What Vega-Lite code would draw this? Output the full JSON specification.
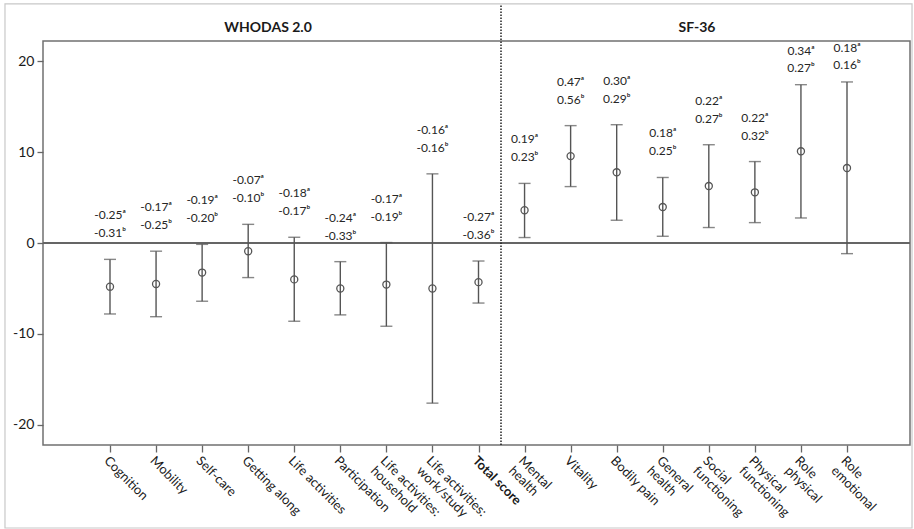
{
  "$schema": "https://vega.github.io/schema/vega-lite/v6.json",
  "width": 867,
  "height": 404,
  "autosize": {"type": "none"},
  "padding": {"left": 43, "top": 41, "right": 4, "bottom": 84},
  "background": "white",
  "config": {
    "font": "Lato",
    "view": {"stroke": "#707070", "strokeWidth": 1.5},
    "axis": {"grid": false, "domain": false, "tickColor": "#666666", "tickWidth": 1.3, "labelColor": "#1a1a1a", "labelFont": "Lato"}
  },
  "datasets": {
    "main": [
      {"measure": "Cognition", "mean": -4.8, "lower": -7.8, "upper": -1.8, "a": "-0.25ᵃ", "b": "-0.31ᵇ"},
      {"measure": "Mobility", "mean": -4.5, "lower": -8.1, "upper": -0.9, "a": "-0.17ᵃ", "b": "-0.25ᵇ"},
      {"measure": "Self-care", "mean": -3.25, "lower": -6.4, "upper": -0.15, "a": "-0.19ᵃ", "b": "-0.20ᵇ"},
      {"measure": "Getting along", "mean": -0.9, "lower": -3.8, "upper": 2.05, "a": "-0.07ᵃ", "b": "-0.10ᵇ"},
      {"measure": "Life activities", "mean": -4.0, "lower": -8.6, "upper": 0.63, "a": "-0.18ᵃ", "b": "-0.17ᵇ"},
      {"measure": "Participation", "mean": -5.0, "lower": -7.9, "upper": -2.05, "a": "-0.24ᵃ", "b": "-0.33ᵇ"},
      {"measure": "Life activities:\nhousehold", "mean": -4.57, "lower": -9.15, "upper": 0.05, "a": "-0.17ᵃ", "b": "-0.19ᵇ"},
      {"measure": "Life activities:\nwork/study", "mean": -5.0, "lower": -17.6, "upper": 7.6, "a": "-0.16ᵃ", "b": "-0.16ᵇ"},
      {"measure": "Total score", "mean": -4.3, "lower": -6.6, "upper": -1.98, "a": "-0.27ᵃ", "b": "-0.36ᵇ"},
      {"measure": "Mental\nhealth", "mean": 3.6, "lower": 0.6, "upper": 6.55, "a": "0.19ᵃ", "b": "0.23ᵇ"},
      {"measure": "Vitality", "mean": 9.55, "lower": 6.2, "upper": 12.9, "a": "0.47ᵃ", "b": "0.56ᵇ"},
      {"measure": "Bodily pain", "mean": 7.77, "lower": 2.5, "upper": 13.0, "a": "0.30ᵃ", "b": "0.29ᵇ"},
      {"measure": "General\nhealth", "mean": 3.95, "lower": 0.74, "upper": 7.2, "a": "0.18ᵃ", "b": "0.25ᵇ"},
      {"measure": "Social\nfunctioning", "mean": 6.26, "lower": 1.7, "upper": 10.8, "a": "0.22ᵃ", "b": "0.27ᵇ"},
      {"measure": "Physical\nfunctioning", "mean": 5.57, "lower": 2.24, "upper": 8.95, "a": "0.22ᵃ", "b": "0.32ᵇ"},
      {"measure": "Role\nphysical", "mean": 10.08, "lower": 2.75, "upper": 17.4, "a": "0.34ᵃ", "b": "0.27ᵇ"},
      {"measure": "Role\nemotional", "mean": 8.24, "lower": -1.17, "upper": 17.7, "a": "0.18ᵃ", "b": "0.16ᵇ"}
    ],
    "headers": [
      {"label": "WHODAS 2.0", "pos": 3.435, "level": 23.63},
      {"label": "SF-36", "pos": 12.76, "level": 23.63}
    ],
    "divider": [
      {"pos": 8.5, "bottom": -22.2, "top": 26.27}
    ],
    "frame": [
      {"left": -2.283, "right": 17.435, "top": 26.27, "bottom": -31.32}
    ]
  },
  "layer": [
    {
      "data": {"name": "main"},
      "encoding": {
        "x": {
          "field": "measure",
          "type": "nominal",
          "sort": null,
          "title": null,
          "scale": {"type": "point", "padding": 0, "range": [67, 804]},
          "axis": {
            "labelAngle": 45,
            "labelAlign": "left",
            "labelBaseline": "top",
            "labelFontSize": 13,
            "labelPadding": 2,
            "tickSize": 7,
            "labelExpr": "split(datum.label, '\\n')",
            "labelLineHeight": 14,
            "labelFontWeight": {"condition": {"test": "datum.value === 'Total score'", "value": "bold"}, "value": "normal"}
          }
        }
      },
      "layer": [
        {
          "mark": {"type": "rule", "color": "#666666", "strokeWidth": 1.5},
          "encoding": {"x": null, "y": {"datum": 0, "type": "quantitative", "scale": {"domain": [-22.2, 22.2], "nice": false, "zero": false}}}
        },
        {
          "mark": {"type": "rule", "color": "#555555", "strokeWidth": 1.4},
          "encoding": {
            "y": {"field": "lower", "type": "quantitative", "scale": {"domain": [-22.2, 22.2], "nice": false, "zero": false},
              "axis": {"values": [-20, -10, 0, 10, 20], "title": null, "labelFontSize": 14, "tickSize": 6, "labelPadding": 3, "labelExpr": "'' + datum.value"}},
            "y2": {"field": "upper"}
          }
        },
        {
          "mark": {"type": "tick", "color": "#555555", "thickness": 1.4, "size": 12, "orient": "horizontal"},
          "encoding": {"y": {"field": "lower", "type": "quantitative"}}
        },
        {
          "mark": {"type": "tick", "color": "#555555", "thickness": 1.4, "size": 12, "orient": "horizontal"},
          "encoding": {"y": {"field": "upper", "type": "quantitative"}}
        },
        {
          "mark": {"type": "point", "shape": "circle", "filled": false, "color": "#555555", "strokeWidth": 1.3, "size": 50, "opacity": 1},
          "encoding": {"y": {"field": "mean", "type": "quantitative"}}
        },
        {
          "transform": [{"filter": "datum.upper < 15"}],
          "mark": {"type": "text", "fontSize": 12, "color": "#262626", "align": "center", "baseline": "middle", "dy": -44},
          "encoding": {"y": {"field": "upper", "type": "quantitative"}, "text": {"field": "a"}}
        },
        {
          "transform": [{"filter": "datum.upper < 15"}],
          "mark": {"type": "text", "fontSize": 12, "color": "#262626", "align": "center", "baseline": "middle", "dy": -26},
          "encoding": {"y": {"field": "upper", "type": "quantitative"}, "text": {"field": "b"}}
        },
        {
          "transform": [{"filter": "datum.upper >= 15"}],
          "mark": {"type": "text", "fontSize": 12, "color": "#262626", "align": "center", "baseline": "middle", "dy": -34},
          "encoding": {"y": {"field": "upper", "type": "quantitative"}, "text": {"field": "a"}}
        },
        {
          "transform": [{"filter": "datum.upper >= 15"}],
          "mark": {"type": "text", "fontSize": 12, "color": "#262626", "align": "center", "baseline": "middle", "dy": -17},
          "encoding": {"y": {"field": "upper", "type": "quantitative"}, "text": {"field": "b"}}
        }
      ]
    },
    {
      "encoding": {
        "x": {"type": "quantitative", "scale": {"domain": [-1.4565, 17.391], "nice": false, "zero": false}, "axis": null}
      },
      "layer": [
        {
          "data": {"name": "frame"},
          "mark": {"type": "rect", "fill": null, "stroke": "#c8c8c8", "strokeWidth": 1.2, "clip": false},
          "encoding": {
            "x": {"field": "left", "type": "quantitative", "scale": {"domain": [-1.4565, 17.391], "nice": false, "zero": false}, "axis": null},
            "x2": {"field": "right"},
            "y": {"field": "top", "type": "quantitative"},
            "y2": {"field": "bottom"}
          }
        },
        {
          "data": {"name": "divider"},
          "mark": {"type": "rule", "color": "#222222", "strokeWidth": 1.5, "strokeDash": [1.5, 1.5], "clip": false},
          "encoding": {
            "x": {"field": "pos", "type": "quantitative", "axis": null},
            "y": {"field": "bottom", "type": "quantitative"},
            "y2": {"field": "top"}
          }
        },
        {
          "data": {"name": "headers"},
          "mark": {"type": "text", "fontSize": 14, "fontWeight": "bold", "color": "#1a1a1a", "align": "center", "baseline": "middle", "clip": false},
          "encoding": {
            "x": {"field": "pos", "type": "quantitative", "axis": null},
            "y": {"field": "level", "type": "quantitative"},
            "text": {"field": "label"}
          }
        }
      ]
    }
  ],
  "resolve": {"scale": {"x": "independent"}}
}
